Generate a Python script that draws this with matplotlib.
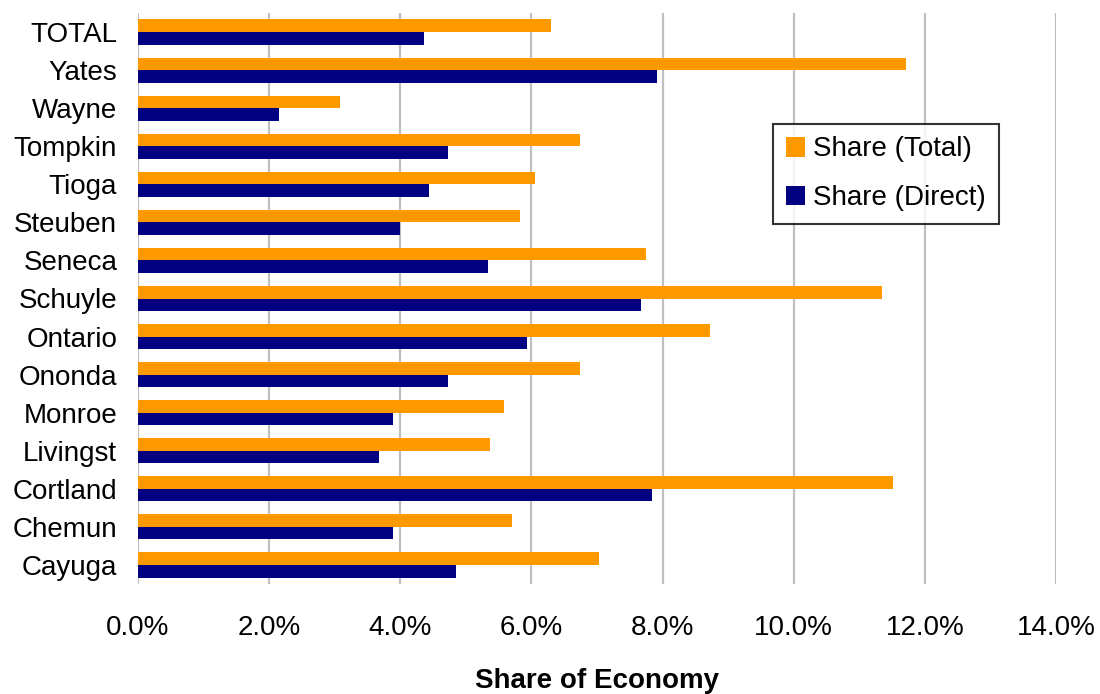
import matplotlib
matplotlib.use("Agg")
import matplotlib.pyplot as plt
import numpy as np
from matplotlib.ticker import FuncFormatter

plt.rcParams['font.family'] = ['Liberation Sans', 'DejaVu Sans']

categories = ["Cayuga", "Chemun", "Cortland", "Livingst", "Monroe", "Ononda", "Ontario",
              "Schuyle", "Seneca", "Steuben", "Tioga", "Tompkin", "Wayne", "Yates", "TOTAL"]
share_total = [7.03, 5.70, 11.51, 5.37, 5.58, 6.74, 8.72, 11.34, 7.74, 5.82, 6.05, 6.74, 3.08, 11.71, 6.30]
share_direct = [4.85, 3.89, 7.84, 3.67, 3.89, 4.73, 5.93, 7.67, 5.34, 3.99, 4.44, 4.73, 2.15, 7.91, 4.36]
xticks = [0, 2, 4, 6, 8, 10, 12, 14]

fig = plt.figure(figsize=(11, 6.94), dpi=100)
ax = fig.add_axes([138/1100, 1-584/694, (1056-138)/1100, (584-13)/694])

y = np.arange(len(categories))
h = 0.33
ax.barh(y + h/2, share_total, height=h, color="#FF9900", label="Share (Total)", zorder=3)
ax.barh(y - h/2, share_direct, height=h, color="#000080", label="Share (Direct)", zorder=3)

ax.set_xlim(0, 14)
ax.set_ylim(-0.5, len(categories) - 0.5)
ax.set_xticks(xticks)
ax.xaxis.set_major_formatter(FuncFormatter(lambda v, p: f"{v:.1f}%"))
ax.set_yticks(y)
ax.set_yticklabels(categories)
ax.grid(axis="x", color="#c0c0c0", linewidth=1.6, zorder=0)
ax.set_axisbelow(True)
for s in ax.spines.values():
    s.set_visible(False)
ax.tick_params(axis="both", length=0, labelsize=20)
ax.tick_params(axis="x", pad=22)
ax.tick_params(axis="y", pad=15)
ax.set_xlabel("Share of Economy", fontsize=20, fontweight="bold", labelpad=20)

leg = ax.legend(loc="upper left", bbox_to_anchor=((773-138)/918, (584-124)/571),
                fontsize=20, frameon=True, fancybox=False, handlelength=0.7,
                handleheight=0.7, handletextpad=0.3, borderpad=0.45, labelspacing=0.82,
                borderaxespad=0)
leg.get_frame().set_edgecolor("black")
leg.get_frame().set_linewidth(1.5)

fig.savefig("out.png", dpi=100)
